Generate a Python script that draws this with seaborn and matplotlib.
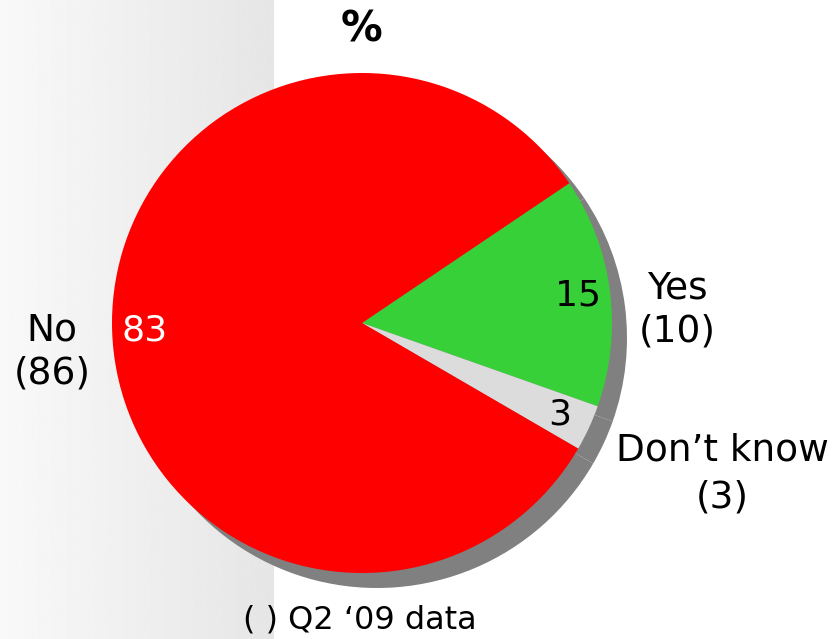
import numpy as np
import matplotlib
matplotlib.use("Agg")
import matplotlib.pyplot as plt
import seaborn as sns

# survey answers, current quarter (%) and Q2 '09 figures in brackets
categories = ["Yes", "Don\u2019t know", "No"]
current = [15, 3, 83]
previous = [10, 3, 86]
slice_colors = ["#38d038", "#dcdcdc", "#ff0000"]
value_colors = ["black", "black", "white"]
title = "%"
footnote = "( ) Q2 \u201809 data"

sns.set_theme(style="white")
plt.rcParams["font.family"] = ["DejaVu Sans"]
plt.rcParams["text.color"] = "black"

W, H = 833, 639
fig = plt.figure(figsize=(W / 100, H / 100), dpi=100)

# grey gradient panel on the left of the slide
bg = fig.add_axes([0, 0, 1, 1], zorder=0)
bg.set_xlim(0, W)
bg.set_ylim(0, H)
bg.axis("off")
grad = np.linspace(0.975, 0.9, 256).reshape(1, -1)
bg.imshow(grad, cmap="gray", vmin=0, vmax=1, extent=[0, 274, 0, H], aspect="auto")

ax = fig.add_axes([0, 0, 1, 1], zorder=1)
ax.patch.set_alpha(0)
cx, cy, r = 362, H - 323, 250

# drop shadow
ax.pie(current, colors=["#808080"] * 3, startangle=34, counterclock=False,
       center=(cx + 15, cy - 15), radius=r, frame=True,
       wedgeprops=dict(linewidth=0))
wedges, _, autotexts = ax.pie(
    current, colors=slice_colors, startangle=34, counterclock=False,
    center=(cx, cy), radius=r, frame=True,
    autopct=lambda p: f"{p * sum(current) / 100:.0f}", pctdistance=0.87,
    wedgeprops=dict(linewidth=0), textprops=dict(fontsize=26))
for t, c in zip(autotexts, value_colors):
    t.set_color(c)

ax.set_xlim(0, W)
ax.set_ylim(0, H)
ax.set_aspect("equal")
ax.axis("off")

label_pos = {"Yes": (677, H - 310, 1.25), "Don\u2019t know": (722, H - 474, 1.4),
             "No": (52, H - 352, 1.25)}
for cat, prev in zip(categories, previous):
    x, y, ls = label_pos[cat]
    ax.text(x, y, f"{cat}\n({prev})", ha="center", va="center",
            fontsize=27, linespacing=ls, color="black")

ax.text(362, H - 30, title, ha="center", va="center", fontsize=30,
        fontweight="bold", color="black")
ax.text(360, H - 620, footnote, ha="center", va="center", fontsize=23, color="black")

fig.savefig("out.png", dpi=100)
